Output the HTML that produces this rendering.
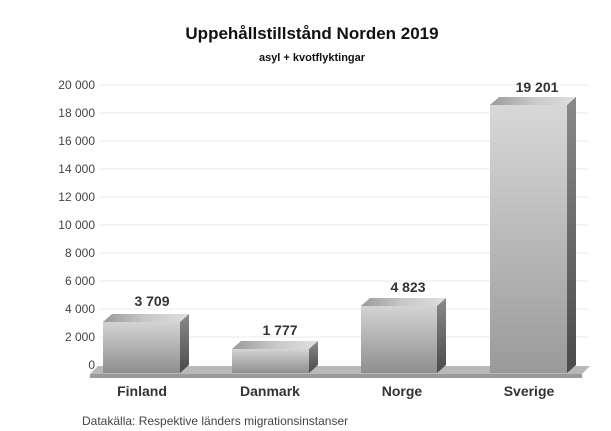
<!DOCTYPE html>
<html><head><meta charset="utf-8"><style>
body{margin:0;background:#fff;}
svg{display:block;font-family:"Liberation Sans",Arial,sans-serif;}
</style></head><body>
<svg width="611" height="431" viewBox="0 0 611 431">
<defs>
<linearGradient id="front" x1="0" y1="0" x2="0" y2="1"><stop offset="0" stop-color="#d4d4d4"/><stop offset="1" stop-color="#8e8e8e"/></linearGradient>
<linearGradient id="frontS" x1="0" y1="0" x2="0" y2="1"><stop offset="0" stop-color="#d8d8d8"/><stop offset="1" stop-color="#9a9a9a"/></linearGradient>
<linearGradient id="side" x1="0" y1="0" x2="0" y2="1"><stop offset="0" stop-color="#8a8a8a"/><stop offset="1" stop-color="#4a4a4a"/></linearGradient>
<linearGradient id="top" x1="0" y1="0" x2="1" y2="0"><stop offset="0" stop-color="#9a9a9a"/><stop offset="0.5" stop-color="#c8c8c8"/><stop offset="1" stop-color="#e0e0e0"/></linearGradient>
</defs>
<text x="312" y="39" text-anchor="middle" font-size="17" font-weight="bold" fill="#111">Uppehållstillstånd Norden 2019</text>
<text x="312" y="61" text-anchor="middle" font-size="11" font-weight="bold" fill="#111">asyl + kvotflyktingar</text>
<g stroke="#ecebe0" stroke-width="1">
<line x1="99" y1="85" x2="588" y2="85"/><line x1="99" y1="113" x2="588" y2="113"/><line x1="99" y1="141" x2="588" y2="141"/><line x1="99" y1="169" x2="588" y2="169"/><line x1="99" y1="197" x2="588" y2="197"/><line x1="99" y1="225" x2="588" y2="225"/><line x1="99" y1="253" x2="588" y2="253"/><line x1="99" y1="281" x2="588" y2="281"/><line x1="99" y1="309" x2="588" y2="309"/><line x1="99" y1="337" x2="588" y2="337"/>
</g>
<g font-size="12" fill="#444" text-anchor="end">
<text x="95" y="89">20 000</text><text x="95" y="117">18 000</text><text x="95" y="145">16 000</text><text x="95" y="173">14 000</text><text x="95" y="201">12 000</text><text x="95" y="229">10 000</text><text x="95" y="257">8 000</text><text x="95" y="285">6 000</text><text x="95" y="313">4 000</text><text x="95" y="341">2 000</text><text x="95" y="369">0</text>
</g>
<polygon points="98,366 590,366 582,374 90,374" fill="#b8b8b8"/>
<rect x="90" y="374" width="492" height="4" fill="#9a9a9a"/>
<g>
<polygon points="103,322 180,322 189,314 112,314" fill="url(#top)"/>
<polygon points="180,322 189,314 189,365 180,373" fill="url(#side)"/>
<rect x="103" y="322" width="77" height="51" fill="url(#front)"/>
<polygon points="232,349 309,349 318,341 241,341" fill="url(#top)"/>
<polygon points="309,349 318,341 318,365 309,373" fill="url(#side)"/>
<rect x="232" y="349" width="77" height="24" fill="url(#front)"/>
<polygon points="361,306 437,306 446,298 370,298" fill="url(#top)"/>
<polygon points="437,306 446,298 446,365 437,373" fill="url(#side)"/>
<rect x="361" y="306" width="76" height="67" fill="url(#front)"/>
<polygon points="490,105 567,105 576,97 499,97" fill="url(#top)"/>
<polygon points="567,105 576,97 576,365 567,373" fill="url(#side)"/>
<rect x="490" y="105" width="77" height="268" fill="url(#frontS)"/>
</g>
<g font-size="14" font-weight="bold" fill="#333" text-anchor="middle">
<text x="152" y="306">3 709</text><text x="280" y="335">1 777</text><text x="408" y="292">4 823</text><text x="537" y="92">19 201</text>
<text x="142" y="396">Finland</text><text x="270" y="396">Danmark</text><text x="402" y="396">Norge</text><text x="529" y="396">Sverige</text>
</g>
<text x="82" y="425" font-size="12" fill="#444">Datakälla: Respektive länders migrationsinstanser</text>
</svg>
</body></html>
